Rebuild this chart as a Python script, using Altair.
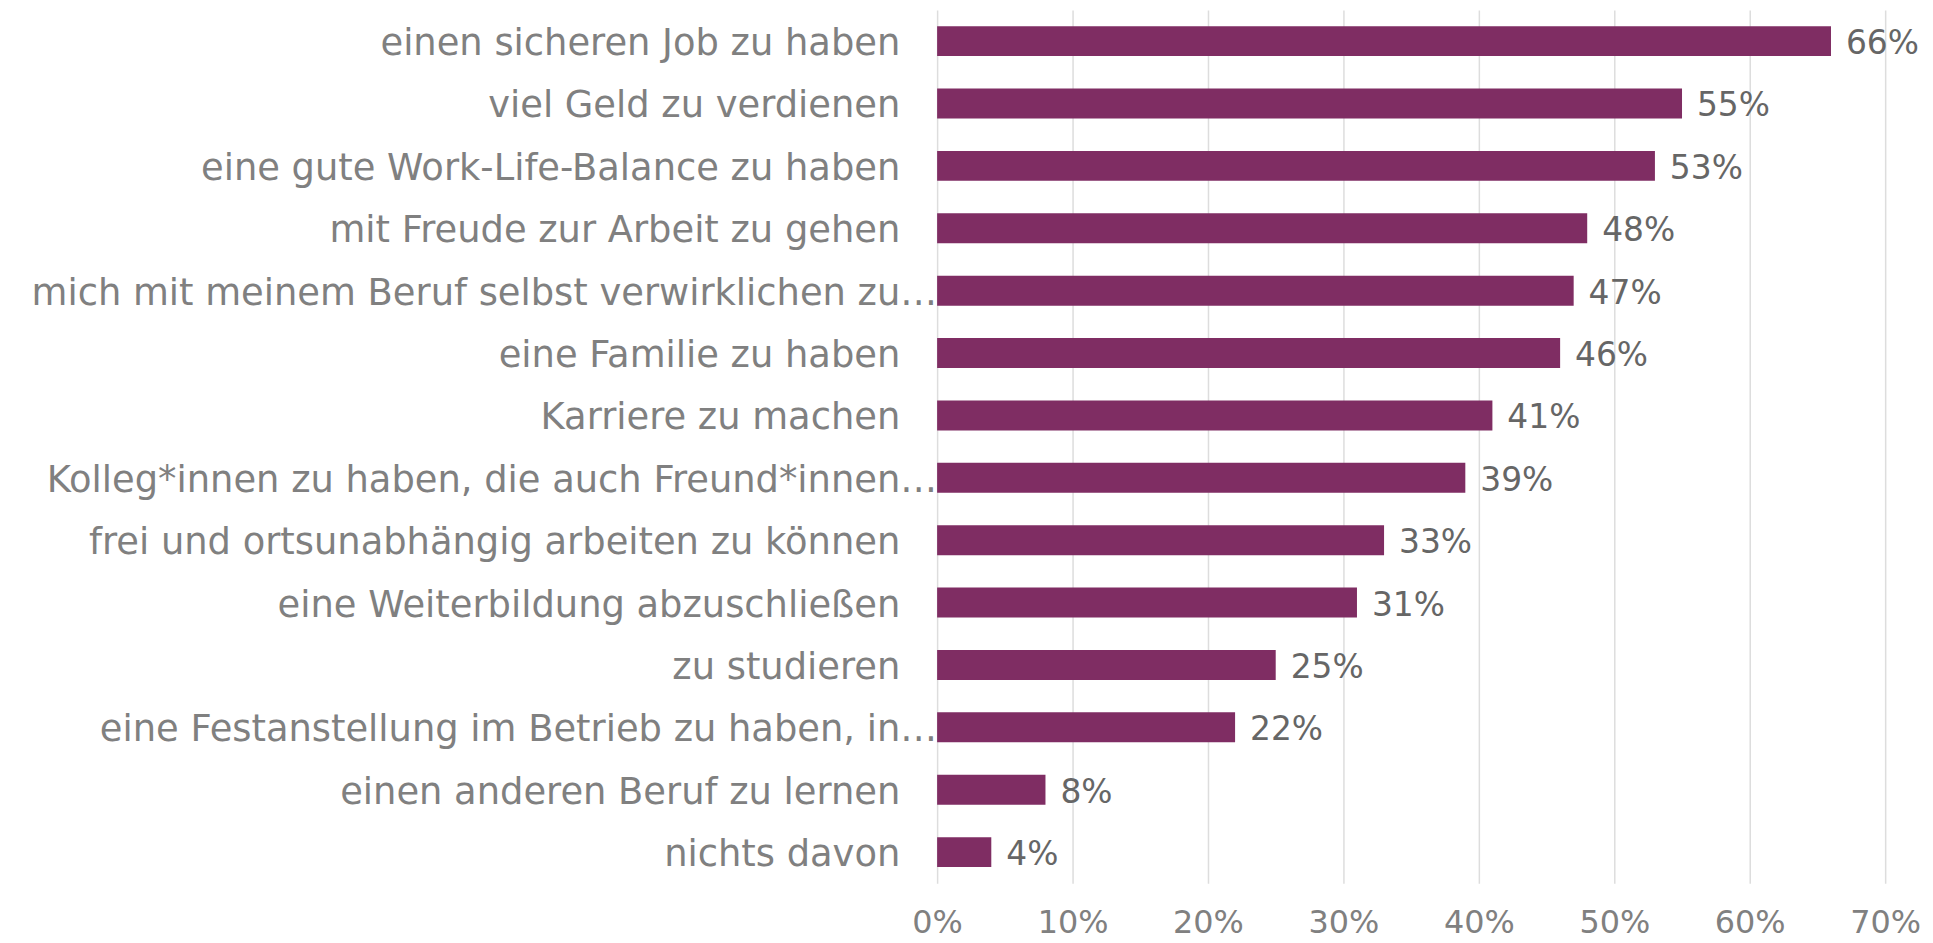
import altair as alt
import pandas as pd

categories = [
    "einen sicheren Job zu haben",
    "viel Geld zu verdienen",
    "eine gute Work-Life-Balance zu haben",
    "mit Freude zur Arbeit zu gehen",
    "mich mit meinem Beruf selbst verwirklichen zu…",
    "eine Familie zu haben",
    "Karriere zu machen",
    "Kolleg*innen zu haben, die auch Freund*innen…",
    "frei und ortsunabhängig arbeiten zu können",
    "eine Weiterbildung abzuschließen",
    "zu studieren",
    "eine Festanstellung im Betrieb zu haben, in…",
    "einen anderen Beruf zu lernen",
    "nichts davon",
]
values = [0.66, 0.55, 0.53, 0.48, 0.47, 0.46, 0.41, 0.39, 0.33, 0.31, 0.25, 0.22, 0.08, 0.04]
tick_values = [0, 0.1, 0.2, 0.3, 0.4, 0.5, 0.6, 0.7]

df = pd.DataFrame({"category": categories, "value": values})

FONT = "DejaVu Sans"

yscale = alt.Scale(paddingInner=0.52, paddingOuter=0.26)
y_enc = alt.Y("category:N", sort=categories, axis=None, scale=yscale)

x_enc = alt.X(
    "value:Q",
    scale=alt.Scale(domain=[0, 0.7], nice=False),
    axis=alt.Axis(
        format=".0%",
        values=tick_values,
        grid=True,
        gridColor="#DDDDDD",
        gridWidth=1.5,
        domain=False,
        ticks=False,
        labelFlush=False,
        labelFont=FONT,
        labelFontSize=32,
        labelColor="#808080",
        labelPadding=24,
        title=None,
    ),
)

bars = alt.Chart(df).mark_bar(color="#7F2D63").encode(x=x_enc, y=y_enc)

vals = alt.Chart(df).mark_text(
    align="left", baseline="middle", dx=15, dy=3, fontSize=33, color="#666666", font=FONT
).encode(
    x=alt.X("value:Q"),
    y=alt.Y("category:N", sort=categories),
    text=alt.Text("value:Q", format=".0%"),
)

cats_full = alt.Chart(df).transform_filter(
    "indexof(datum.category, '…') < 0"
).mark_text(
    align="right", baseline="middle", dx=-37, dy=3, fontSize=37, color="#808080", font=FONT
).encode(
    x=alt.value(0),
    y=alt.Y("category:N", sort=categories),
    text="category:N",
)

cats_trunc = alt.Chart(df).transform_filter(
    "indexof(datum.category, '…') >= 0"
).mark_text(
    align="right", baseline="middle", dx=0, dy=3, fontSize=37, color="#808080", font=FONT
).encode(
    x=alt.value(0),
    y=alt.Y("category:N", sort=categories),
    text="category:N",
)

chart = (
    alt.layer(bars, vals, cats_full, cats_trunc)
    .properties(
        width=952,
        height=877,
        autosize=alt.AutoSizeParams(type="none"),
        padding={"left": 933, "top": 0, "right": 40, "bottom": 58},
    )
    .configure_view(stroke=None)
)

chart.save("out.html", embed_options={"renderer": "svg", "actions": False})
